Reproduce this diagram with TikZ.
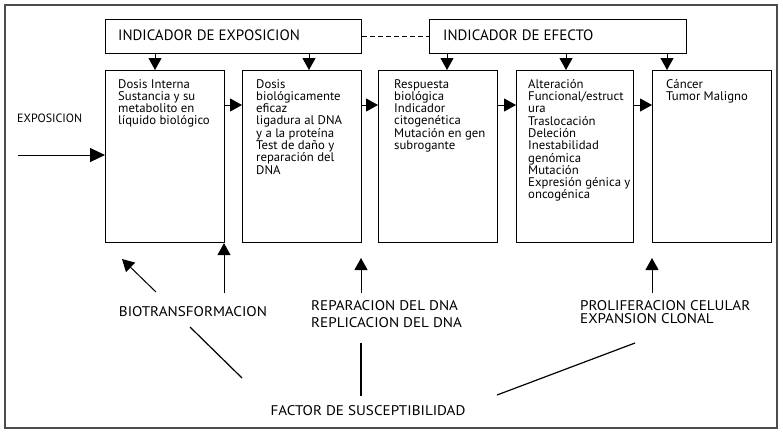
\documentclass[tikz,border=0pt]{standalone}
\usepackage{fontspec}
\setmainfont{PT Sans}
\newfontfamily\condfont[FakeStretch=1.08]{PT Sans}
\newfontfamily\boxfont[FakeStretch=1.02]{PT Sans}
\usetikzlibrary{arrows.meta,calc}
\begin{document}
\begin{tikzpicture}[x=1pt,y=-1pt,
  box/.style={draw, line width=1.1pt, minimum width=119pt, minimum height=172pt, anchor=north west, inner sep=0pt},
  topbox/.style={draw, line width=1.1pt, minimum height=34pt, anchor=north west, inner sep=0pt},
  btext/.style={anchor=north west, align=left, inner sep=0pt, font=\boxfont\fontsize{12.5}{12.3}\selectfont},
  ttext/.style={anchor=west, inner sep=0pt, font=\fontsize{15}{17}\selectfont},
  lab/.style={inner sep=0pt, align=left, font=\condfont\fontsize{14}{16.5}\selectfont},
  tri/.style={line width=1pt, -{Triangle[length=12pt,width=13pt]}},
  plain/.style={line width=1.2pt}]
\useasboundingbox (0,0) rectangle (783,432);
\draw[line width=2.8pt, black!70] (5,5) rectangle (777,428);

% top boxes
\node[topbox, minimum width=256pt] (ie) at (105,19) {};
\node[topbox, minimum width=257pt] (ief) at (429,19) {};
\node[ttext] (tie) at (118,35.5) {INDICADOR DE EXPOSICION};
\node[ttext] (tief) at (443,35.5) {INDICADOR DE EFECTO};
\draw[line width=1.1pt, dashed, dash pattern=on 5pt off 3pt] (ie.east) -- (ief.west);

% main boxes
\node[box] (b1) at (105,70) {};
\node[box] (b2) at (242,70) {};
\node[box] (b3) at (378,70) {};
\node[box, minimum width=117pt] (b4) at (516,70) {};
\node[box] (b5) at (652,70) {};

\node[btext] (t1) at (118,79) {Dosis Interna\\Sustancia y su\\metabolito en\\líquido biológico};
\node[btext] (t2) at (256,79) {Dosis\\biológicamente\\eficaz\\ligadura al DNA\\y a la proteína\\Test de daño y\\reparación del\\DNA};
\node[btext] (t3) at (394,79) {Respuesta\\biológica\\Indicador\\citogenética\\Mutación en gen\\subrogante};
\node[btext] (t4) at (528,79) {Alteración\\Funcional/estruct\\ura\\Traslocación\\Deleción\\Inestabilidad\\genómica\\Mutación\\Expresión génica y\\oncogénica};
\node[btext] (t5) at (666,79) {Cáncer\\Tumor Maligno};

% arrows from indicators
\draw[tri] (ie.south -| 155,0) -- (b1.north -| 155,0);
\draw[tri] (ie.south -| 309,0) -- (b2.north -| 309,0);
\draw[tri] (ief.south -| 447,0) -- (b3.north -| 447,0);
\draw[tri] (ief.south -| 566,0) -- (b4.north -| 566,0);
\draw[tri] (ief.south -| 667,0) -- (b5.north -| 667,0);

% arrows between boxes
\draw[tri] (b1.east |- 0,105) -- (b2.west |- 0,105);
\draw[tri] (b2.east |- 0,105) -- (b3.west |- 0,105);
\draw[tri] (b3.east |- 0,105) -- (b4.west |- 0,105);
\draw[tri] (b4.east |- 0,105) -- (b5.west |- 0,105);

% exposicion
\node[anchor=west, inner sep=0pt, font=\fontsize{12}{13}\selectfont] (expo) at (17,118) {EXPOSICION};
\coordinate (expstart) at (18,155);
\draw[line width=1pt, -{Triangle[length=15pt,width=14pt]}] (expstart) -- (b1.west |- expstart);

% bottom labels
\node[lab, anchor=center] (bio) at (193,312) {BIOTRANSFORMACION};
\node[lab, anchor=west] (rep) at (311,314) {REPARACION DEL DNA\\REPLICACION DEL DNA};
\node[lab, anchor=west, font=\condfont\fontsize{14}{13}\selectfont] (pro) at (580,312) {PROLIFERACION CELULAR\\EXPANSION CLONAL};
\node[lab, anchor=center] (fac) at (368,411) {FACTOR DE SUSCEPTIBILIDAD};

% upward arrows
\coordinate (d1s) at (156,292);
\coordinate (d1e) at (122,259);
\draw[tri] (d1s) -- (d1e);
\coordinate (u1) at (224,293);
\draw[tri] (u1) -- (u1 |- b1.south);
\coordinate (u2s) at (361,293);
\coordinate (u2e) at (361,258);
\draw[tri] (u2s) -- (u2e);
\coordinate (u3s) at (652,293);
\coordinate (u3e) at (652,258);
\draw[tri] (u3s) -- (u3e);

% lines from factor
\coordinate (l1a) at (190,327);
\coordinate (l1b) at (242,378);
\draw[plain] (l1a) -- (l1b);
\coordinate (l2a) at (361,343);
\coordinate (l2b) at (361,396);
\draw[plain] (l2a) -- (l2b);
\coordinate (l3a) at (497,395);
\coordinate (l3b) at (635,343);
\draw[plain] (l3a) -- (l3b);
\end{tikzpicture}
\end{document}
